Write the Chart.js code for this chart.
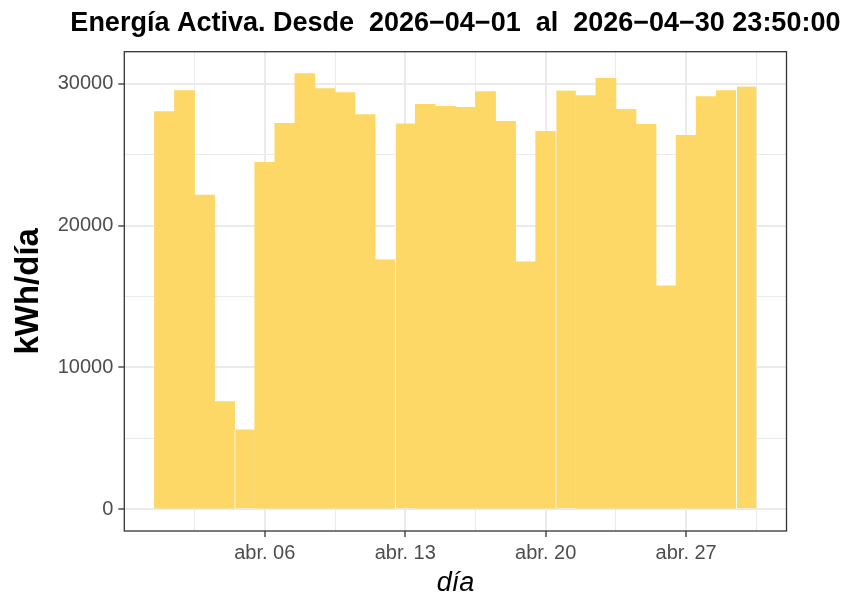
<!DOCTYPE html>
<html>
<head>
<meta charset="utf-8">
<script src="https://cdn.jsdelivr.net/npm/chart.js@4/dist/chart.umd.min.js"></script>
<style>
  html, body { margin: 0; padding: 0; background: #ffffff; }
  #wrap { width: 859px; height: 597px; }
</style>
</head>
<body>
<div id="wrap"><canvas id="c" width="859" height="597"></canvas></div>
<script>
// ---- data ----
const chartTitle = "Energía Activa. Desde  2026\u221204\u221201  al  2026\u221204\u221230 23:50:00";
const xTitle = "día";
const yTitle = "kWh/día";
const days = [1,2,3,4,5,6,7,8,9,10,11,12,13,14,15,16,17,18,19,20,21,22,23,24,25,26,27,28,29,30];
const energy = [28050, 29530, 22150, 7590, 5630, 24470, 27210, 30730, 29670, 29390,
                27840, 17580, 27210, 28550, 28410, 28340, 29460, 27350, 17440, 26650,
                29530, 29180, 30380, 28200, 27140, 15750, 26370, 29110, 29530, 29810];
const xTickDays = [6, 13, 20, 27];
const xTickLabels = ["abr. 06", "abr. 13", "abr. 20", "abr. 27"];
const xMinorDays = [2.5, 9.5, 16.5, 23.5, 30.5];
const yTickValues = [0, 10000, 20000, 30000];
const yMinorValues = [5000, 15000, 25000];
const gapBeforeDays = [5, 13, 21, 30];

// ---- rendering ----
const BAR = 'rgb(253,216,103)';
const GRID = '#EBEBEB';
const DARK = '#333333';
const TICKTXT = '#4D4D4D';
const FONT = "'Liberation Sans', Arial, sans-serif";

const points = days.map((d, i) => ({ x: d, y: energy[i] }));
const dataMax = Math.max(...energy);

const panelPlugin = {
  id: 'panel',
  afterDraw(chart) {
    const { ctx, chartArea: a } = chart;
    ctx.save();
    ctx.strokeStyle = DARK;
    ctx.lineWidth = 1.3;
    ctx.strokeRect(a.left, a.top, a.right - a.left, a.bottom - a.top);
    // titles
    ctx.fillStyle = '#000000';
    ctx.textAlign = 'center';
    ctx.textBaseline = 'alphabetic';
    ctx.font = "bold 27px " + FONT;
    ctx.fillText(chartTitle, (a.left + a.right) / 2, 31);
    ctx.font = "italic 27px " + FONT;
    ctx.fillText(xTitle, (a.left + a.right) / 2, 591);
    ctx.translate(38, (a.top + a.bottom) / 2);
    ctx.rotate(-Math.PI / 2);
    ctx.font = "bold 33px " + FONT;
    ctx.fillText(yTitle, 0, 0);
    ctx.restore();
  }
};

new Chart(document.getElementById('c'), {
  type: 'bar',
  data: {
    datasets: [{
      data: points,
      backgroundColor: BAR,
      borderColor: '#ffffff',
      borderWidth: (ctx) => gapBeforeDays.includes(days[ctx.dataIndex]) ? { left: 1, right: 0, top: 0, bottom: 0 } : 0,
      borderSkipped: false,
      barPercentage: 1,
      categoryPercentage: 1
    }]
  },
  options: {
    responsive: false,
    animation: false,
    devicePixelRatio: 1,
    layout: { padding: { top: 51.7, right: 72.5, left: 0, bottom: 0 } },
    plugins: { legend: { display: false }, title: { display: false }, tooltip: { enabled: false } },
    scales: {
      x: {
        type: 'linear',
        min: -1,
        max: 32,
        offset: false,
        afterFit(s) { s.height = 66; },
        afterBuildTicks(s) {
          const all = [...xTickDays, ...xMinorDays].sort((a, b) => a - b);
          s.ticks = all.map(v => ({ value: v }));
        },
        ticks: {
          autoSkip: false,
          maxRotation: 0,
          padding: 4,
          color: TICKTXT,
          font: { family: FONT, size: 20 },
          callback(v) { const i = xTickDays.indexOf(v); return i >= 0 ? xTickLabels[i] : ''; }
        },
        grid: {
          offset: false,
          color: GRID,
          lineWidth: (c) => xTickDays.includes(c.tick && c.tick.value) ? 2 : 1,
          tickColor: (c) => xTickDays.includes(c.tick && c.tick.value) ? DARK : 'rgba(0,0,0,0)',
          tickLength: 6,
          tickWidth: 1.3,
          drawTicks: true
        },
        border: { display: false }
      },
      y: {
        min: -0.05 * dataMax,
        max: 1.05 * dataMax,
        afterFit(s) { s.width = 124.3; },
        afterBuildTicks(s) {
          const all = [...yTickValues, ...yMinorValues].sort((a, b) => a - b);
          s.ticks = all.map(v => ({ value: v }));
        },
        ticks: {
          autoSkip: false,
          padding: 5,
          color: TICKTXT,
          font: { family: FONT, size: 20 },
          callback(v) { return yTickValues.includes(v) ? String(v) : ''; }
        },
        grid: {
          color: GRID,
          lineWidth: (c) => yTickValues.includes(c.tick && c.tick.value) ? 2 : 1,
          tickColor: (c) => yTickValues.includes(c.tick && c.tick.value) ? DARK : 'rgba(0,0,0,0)',
          tickLength: 6,
          tickWidth: 1.3,
          drawTicks: true
        },
        border: { display: false }
      }
    }
  },
  plugins: [panelPlugin]
});
</script>
</body>
</html>
